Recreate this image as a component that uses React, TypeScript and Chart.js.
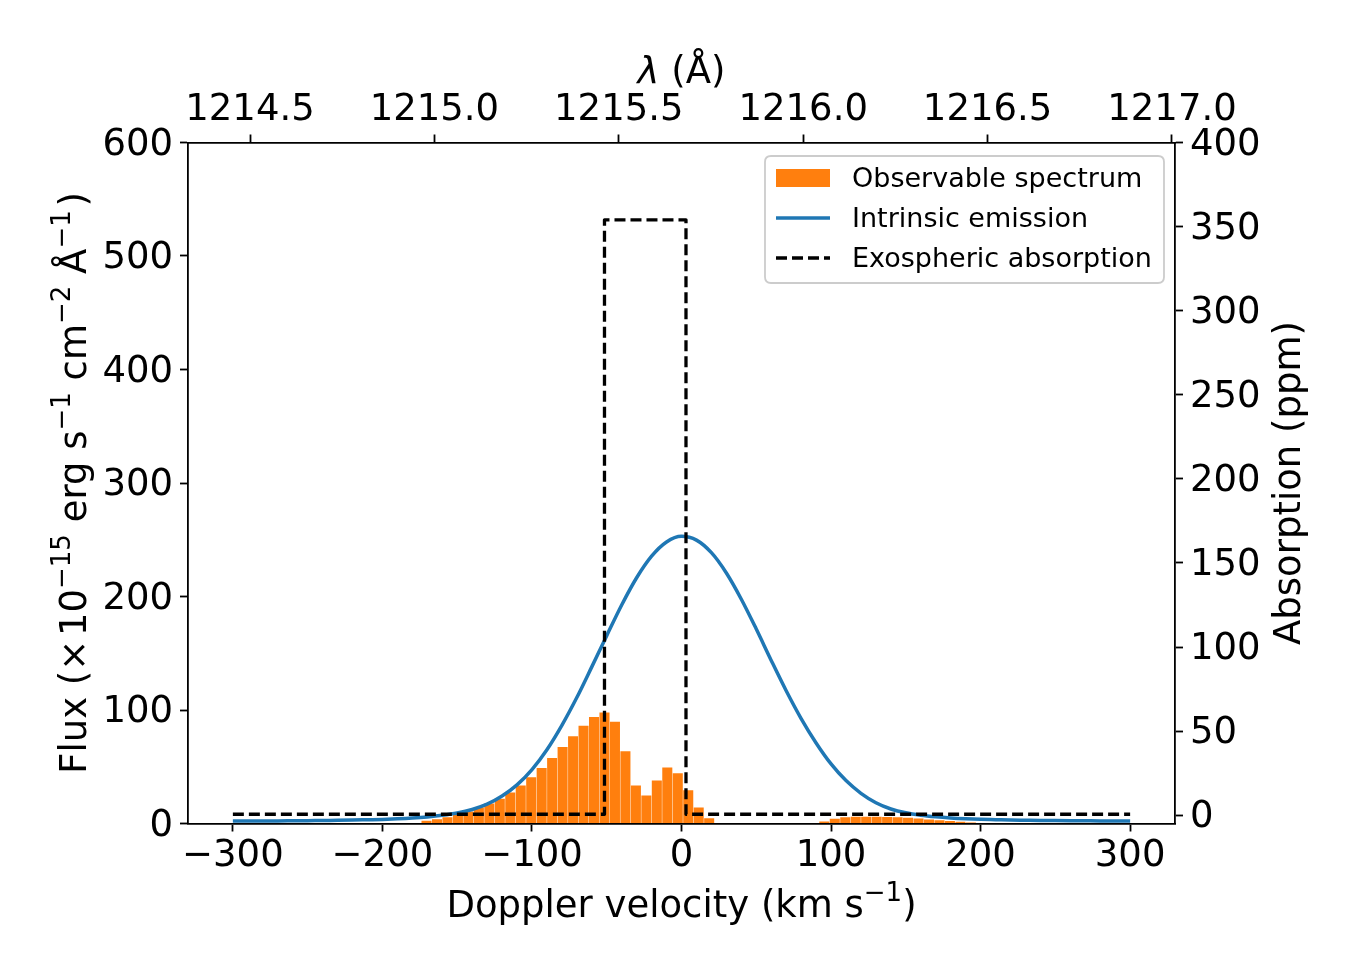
import React, { useEffect, useRef } from "react";
import { Chart, registerables } from "chart.js";

Chart.register(...registerables);

// ---------- data ----------
const LAMBDA0 = 1215.67; // Lyman-alpha rest wavelength (Å)
const C_KMS = 299792.458;

const VEL_MIN = -330;
const VEL_MAX = 330;

const VEL_TICKS = [-300, -200, -100, 0, 100, 200, 300];
const FLUX_TICKS = [0, 100, 200, 300, 400, 500, 600];
const PPM_TICKS = [0, 50, 100, 150, 200, 250, 300, 350, 400];
const WAVE_TICKS = [1214.5, 1215.0, 1215.5, 1216.0, 1216.5, 1217.0];

const FLUX_MIN = 0;
const FLUX_MAX = 600;
const PPM_MIN = -4.9;
const PPM_MAX = 400;

// Observable spectrum histogram (bin centres in km/s, flux in 1e-15 units)
const BIN_CENTERS = [
  -170.5, -163.5, -156.5, -149.5, -142.5, -135.5, -128.5, -121.5, -114.5, -107.5,
  -100.5, -93.5, -86.5, -79.5, -72.5, -65.5, -58.5, -51.5, -44.5, -37.5,
  -30.5, -23.5, -16.5, -9.5, -2.5, 4.5, 11.5, 18.5,
  95.5, 102.5, 109.5, 116.5, 123.5, 130.5, 137.5, 144.5, 151.5, 158.5,
  165.5, 172.5, 179.5, 186.5, 193.5,
];
const OBSERVED_FLUX = [
  2.5, 3.8, 5.5, 7.9, 10.6, 14.1, 17.6, 21.9, 27.3, 33.4,
  40.8, 49.0, 57.8, 67.4, 76.8, 86.2, 93.8, 97.9, 89.7, 63.6,
  33.4, 24.6, 37.8, 49.3, 44.3, 29.3, 14.1, 4.7,
  1.8, 4.1, 5.5, 5.9, 6.0, 6.0, 5.8, 5.5, 5.0, 4.3,
  3.6, 2.9, 2.2, 1.5, 0.8,
];

// Intrinsic emission line
const MODEL_VEL = [
  -300, -290, -280, -270, -260, -250, -240, -230, -220, -210,
  -200, -190, -180, -170, -160, -150, -140, -130, -120, -110,
  -100, -90, -80, -70, -60, -50, -40, -30, -20, -10,
  0, 10, 20, 30, 40, 50, 60, 70, 80, 90,
  100, 110, 120, 130, 140, 150, 160, 170, 180, 190,
  200, 210, 220, 230, 240, 250, 260, 270, 280, 290, 300,
];
const INTRINSIC_FLUX = [
  2.2, 2.2, 2.3, 2.3, 2.4, 2.5, 2.7, 2.8, 3.0, 3.3,
  3.6, 4.1, 4.8, 5.8, 7.2, 9.2, 12.3, 17.0, 24.2, 34.0,
  47.5, 65.0, 86.5, 111.0, 138.0, 165.5, 192.5, 216.5, 235.5, 248.0,
  253.0, 249.7, 238.6, 220.7, 197.6, 171.3, 143.7, 117.0, 92.5, 71.0,
  52.5, 37.8, 26.6, 18.3, 12.8, 9.4, 7.3, 5.9, 4.9, 4.2,
  3.7, 3.4, 3.1, 2.9, 2.7, 2.6, 2.5, 2.4, 2.3, 2.3, 2.2,
];

// Exospheric absorption (ppm), a box profile
const ABS_VEL = [-300, -51.5, -51.5, 3, 3, 300];
const ABS_PPM = [0.6, 0.6, 354, 354, 0.6, 0.6];

const LEGEND_LABELS = ["Observable spectrum", "Intrinsic emission", "Exospheric absorption"];

// ---------- style ----------
const FAMILY = "'DejaVu Sans', 'Liberation Sans', sans-serif";
const TICK_SIZE = 37;
const TITLE_SIZE = 37;
const LEGEND_SIZE = 27;
const ORANGE = "#ff7f0e";
const BLUE = "#1f77b4";

const AREA = { left: 188, right: 1175, top: 142.5, bottom: 823.5 };
const W = 1350;
const H = 975;

type Seg = { t: string; sup?: boolean; it?: boolean };

function drawRich(ctx: CanvasRenderingContext2D, segs: Seg[], x: number, y: number, size: number) {
  const font = (s: Seg) =>
    `${s.it ? "italic " : ""}${s.sup ? Math.round(size * 0.7) : size}px ${FAMILY}`;
  let total = 0;
  for (const s of segs) {
    ctx.font = font(s);
    total += ctx.measureText(s.t).width;
  }
  let cx = x - total / 2;
  ctx.textAlign = "left";
  ctx.textBaseline = "alphabetic";
  for (const s of segs) {
    ctx.font = font(s);
    ctx.fillText(s.t, cx, s.sup ? y - size * 0.42 : y);
    cx += ctx.measureText(s.t).width;
  }
}

const fmtMinus = (v: number) => (v < 0 ? "\u2212" + Math.abs(v) : String(v));

const decorPlugin = {
  id: "decor",
  afterDraw(chart: any) {
    const ctx: CanvasRenderingContext2D = chart.ctx;
    const a = chart.chartArea;
    const cx = (a.left + a.right) / 2;
    const cy = (a.top + a.bottom) / 2;
    ctx.save();
    ctx.fillStyle = "#000";

    // bottom title
    drawRich(ctx, [{ t: "Doppler velocity (km s" }, { t: "\u22121", sup: true }, { t: ")" }], cx, 917, TITLE_SIZE);
    // top title
    drawRich(ctx, [{ t: "\u03bb", it: true }, { t: " (\u00c5)" }], cx, 83, TITLE_SIZE);
    // left title
    ctx.save();
    ctx.translate(86, cy);
    ctx.rotate(-Math.PI / 2);
    drawRich(
      ctx,
      [
        { t: "Flux (\u00d7\u200a10" },
        { t: "\u221215", sup: true },
        { t: " erg s" },
        { t: "\u22121", sup: true },
        { t: " cm" },
        { t: "\u22122", sup: true },
        { t: " \u00c5" },
        { t: "\u22121", sup: true },
        { t: "\u200a)" },
      ],
      0,
      0,
      TITLE_SIZE
    );
    ctx.restore();
    // right title
    ctx.save();
    ctx.translate(1300, cy);
    ctx.rotate(-Math.PI / 2);
    drawRich(ctx, [{ t: "Absorption (ppm)" }], 0, 0, TITLE_SIZE);
    ctx.restore();

    // legend
    const bx = 765, by = 156, bw = 399, bh = 127, r = 6;
    ctx.beginPath();
    ctx.moveTo(bx + r, by);
    ctx.lineTo(bx + bw - r, by);
    ctx.quadraticCurveTo(bx + bw, by, bx + bw, by + r);
    ctx.lineTo(bx + bw, by + bh - r);
    ctx.quadraticCurveTo(bx + bw, by + bh, bx + bw - r, by + bh);
    ctx.lineTo(bx + r, by + bh);
    ctx.quadraticCurveTo(bx, by + bh, bx, by + bh - r);
    ctx.lineTo(bx, by + r);
    ctx.quadraticCurveTo(bx, by, bx + r, by);
    ctx.closePath();
    ctx.fillStyle = "rgba(255,255,255,0.8)";
    ctx.fill();
    ctx.strokeStyle = "#cccccc";
    ctx.lineWidth = 1.8;
    ctx.stroke();

    const rows = [178, 218, 258];
    const hx0 = 776, hx1 = 830;
    ctx.fillStyle = ORANGE;
    ctx.fillRect(hx0, rows[0] - 9, hx1 - hx0, 18);
    ctx.strokeStyle = BLUE;
    ctx.lineWidth = 3.5;
    ctx.setLineDash([]);
    ctx.beginPath();
    ctx.moveTo(hx0, rows[1]);
    ctx.lineTo(hx1, rows[1]);
    ctx.stroke();
    ctx.strokeStyle = "#000";
    ctx.lineWidth = 3.3;
    ctx.setLineDash([11, 5]);
    ctx.beginPath();
    ctx.moveTo(hx0, rows[2]);
    ctx.lineTo(hx1, rows[2]);
    ctx.stroke();
    ctx.setLineDash([]);

    ctx.fillStyle = "#000";
    ctx.font = `${LEGEND_SIZE}px ${FAMILY}`;
    ctx.textAlign = "left";
    ctx.textBaseline = "middle";
    LEGEND_LABELS.forEach((l, i) => ctx.fillText(l, 852, rows[i] + 2));

    ctx.restore();
  },
};

function axisCommon(extra: any) {
  return {
    grid: {
      display: true,
      offset: false,
      drawOnChartArea: false,
      drawTicks: true,
      tickLength: 8,
      tickWidth: 1.8,
      tickColor: "#000",
      color: "#000",
    },
    border: { display: true, color: "#000", width: 1.8 },
    ...extra,
  };
}

export default function App() {
  const ref = useRef<HTMLCanvasElement | null>(null);

  useEffect(() => {
    if (!ref.current) return;
    const tickFont = { family: FAMILY, size: TICK_SIZE };
    const chart = new Chart(ref.current, {
      type: "bar",
      data: {
        datasets: [
          {
            type: "line",
            label: LEGEND_LABELS[2],
            data: ABS_VEL.map((x, i) => ({ x, y: ABS_PPM[i] })),
            borderColor: "#000",
            borderWidth: 3.3,
            borderDash: [11, 5],
            borderJoinStyle: "round",
            pointRadius: 0,
            tension: 0,
            fill: false,
            xAxisID: "x",
            yAxisID: "y2",
            order: 0,
          } as any,
          {
            type: "line",
            label: LEGEND_LABELS[1],
            data: MODEL_VEL.map((x, i) => ({ x, y: INTRINSIC_FLUX[i] })),
            borderColor: BLUE,
            borderWidth: 3.5,
            pointRadius: 0,
            cubicInterpolationMode: "monotone",
            fill: false,
            xAxisID: "x",
            yAxisID: "y",
            order: 1,
          } as any,
          {
            type: "bar",
            label: LEGEND_LABELS[0],
            data: BIN_CENTERS.map((x, i) => ({ x, y: OBSERVED_FLUX[i] })),
            backgroundColor: ORANGE,
            borderWidth: 0,
            barPercentage: 0.96,
            categoryPercentage: 1,
            xAxisID: "x",
            yAxisID: "y",
            order: 2,
          } as any,
        ],
      },
      options: {
        responsive: false,
        devicePixelRatio: 1,
        animation: false,
        events: [],
        layout: { padding: 0 },
        plugins: { legend: { display: false }, tooltip: { enabled: false }, title: { display: false } },
        scales: {
          x: axisCommon({
            type: "linear",
            position: "bottom",
            offset: false,
            min: VEL_MIN,
            max: VEL_MAX,
            ticks: {
              font: tickFont,
              color: "#000",
              padding: 3,
              maxRotation: 0,
              autoSkip: false,
              callback: (v: any) => fmtMinus(Number(v)),
            },
            afterBuildTicks: (s: any) => {
              s.ticks = VEL_TICKS.map((value) => ({ value }));
            },
            afterFit: (s: any) => {
              s.height = H - AREA.bottom;
            },
          }),
          xTop: axisCommon({
            type: "linear",
            position: "top",
            display: true,
            offset: false,
            min: LAMBDA0 * (1 + VEL_MIN / C_KMS),
            max: LAMBDA0 * (1 + VEL_MAX / C_KMS),
            ticks: {
              font: tickFont,
              color: "#000",
              padding: 2,
              maxRotation: 0,
              autoSkip: false,
              callback: (v: any) => Number(v).toFixed(1),
            },
            afterBuildTicks: (s: any) => {
              s.ticks = WAVE_TICKS.map((value) => ({ value }));
            },
            afterFit: (s: any) => {
              s.height = AREA.top;
            },
          }),
          y: axisCommon({
            type: "linear",
            position: "left",
            min: FLUX_MIN,
            max: FLUX_MAX,
            ticks: {
              font: tickFont,
              color: "#000",
              padding: 7,
              labelOffset: 2.5,
              autoSkip: false,
              callback: (v: any) => fmtMinus(Number(v)),
            },
            afterBuildTicks: (s: any) => {
              s.ticks = FLUX_TICKS.map((value) => ({ value }));
            },
            afterFit: (s: any) => {
              s.width = AREA.left;
            },
          }),
          y2: axisCommon({
            type: "linear",
            position: "right",
            display: true,
            min: PPM_MIN,
            max: PPM_MAX,
            ticks: {
              font: tickFont,
              color: "#000",
              padding: 7,
              labelOffset: 2.5,
              autoSkip: false,
              callback: (v: any) => fmtMinus(Number(v)),
            },
            afterBuildTicks: (s: any) => {
              s.ticks = PPM_TICKS.map((value) => ({ value }));
            },
            afterFit: (s: any) => {
              s.width = W - AREA.right;
            },
          }),
        },
      } as any,
      plugins: [decorPlugin as any],
    });
    return () => chart.destroy();
  }, []);

  return (
    <div style={{ position: "absolute", left: 0, top: 0, width: W, height: H, background: "#fff" }}>
      <canvas ref={ref} width={W} height={H} style={{ display: "block" }} />
    </div>
  );
}
